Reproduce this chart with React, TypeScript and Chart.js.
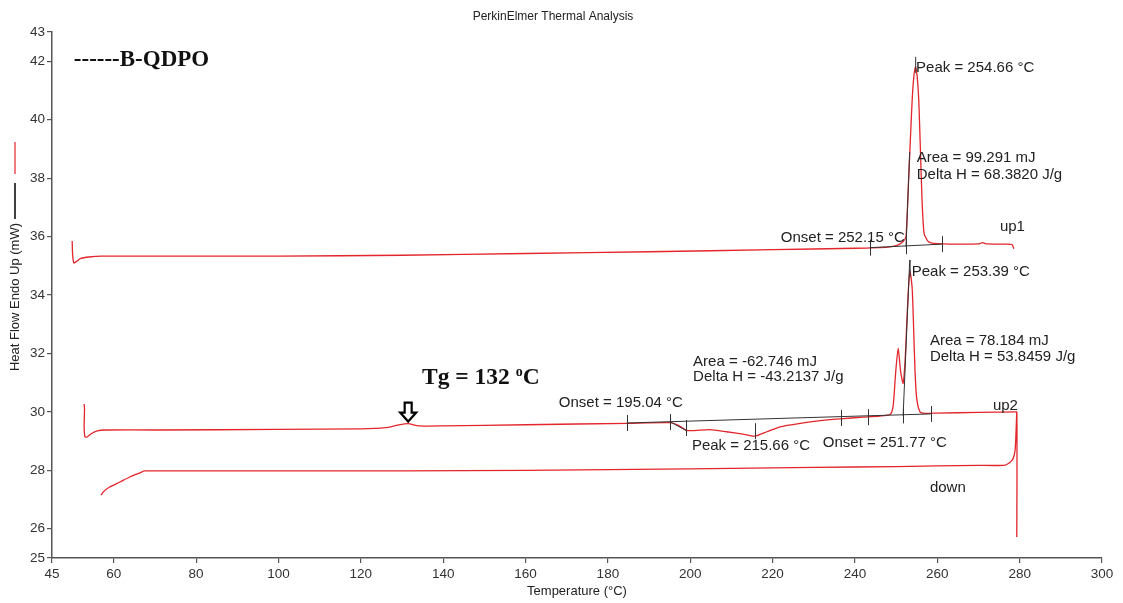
import React, { useEffect, useRef } from "react";
import { Chart, registerables } from "chart.js";

Chart.register(...registerables);

// ---------- text ----------
const chartTitle = "PerkinElmer Thermal Analysis";
const xAxisTitle = "Temperature (°C)";
const yAxisTitle = "Heat Flow Endo Up (mW)";

// ---------- axes ----------
const xMin = 45;
const xMax = 300;
const yMin = 25;
const yMax = 43;
const xTicks = [45, 60, 80, 100, 120, 140, 160, 180, 200, 220, 240, 260, 280, 300];
const yTicks = [25, 26, 28, 30, 32, 34, 36, 38, 40, 42, 43];

// ---------- curves (Temperature °C, Heat flow mW) ----------
const up1Temp = [49.9, 50.0, 50.3, 51, 52, 54, 57, 70, 100, 130, 160, 190, 220, 240, 248, 250.4, 251.7, 252.4, 252.9, 253.35, 253.9, 254.3, 254.7, 255.1, 255.5, 255.9, 256.3, 256.8, 257.8, 259, 265, 270, 271, 272, 277, 278.2, 278.6];
const up1Flow = [35.85, 35.4, 35.1, 35.15, 35.25, 35.3, 35.33, 35.33, 35.33, 35.36, 35.42, 35.48, 35.55, 35.6, 35.64, 35.71, 35.83, 36.0, 37.5, 38.96, 40.67, 41.47, 41.81, 41.5, 40.67, 38.96, 37.25, 36.1, 35.83, 35.77, 35.74, 35.75, 35.79, 35.75, 35.74, 35.72, 35.58];

const up2Temp = [52.8, 52.9, 52.8, 53.0, 53.5, 54.5, 56, 58, 70, 100, 120, 126, 129, 131.5, 134, 140, 160, 185, 195.1, 197, 199, 200.7, 204.8, 208.8, 212.8, 215.7, 218.6, 221.8, 226.7, 231.5, 236.4, 242, 246, 248.6, 249.3, 249.9, 250.5, 251.1, 251.7, 252.2, 252.6, 253.0, 253.35, 253.9, 254.2, 254.6, 255.0, 255.8, 257, 260, 270, 279.3];
const up2Flow = [30.27, 30.1, 29.5, 29.15, 29.14, 29.25, 29.35, 29.38, 29.38, 29.4, 29.42, 29.46, 29.55, 29.6, 29.52, 29.52, 29.56, 29.61, 29.63, 29.55, 29.37, 29.36, 29.39, 29.32, 29.24, 29.17, 29.32, 29.49, 29.61, 29.7, 29.76, 29.82, 29.86, 29.92, 30.23, 31.37, 32.18, 31.37, 30.98, 31.8, 33.09, 34.23, 34.85, 34.23, 33.09, 31.37, 30.46, 30.0, 29.95, 29.96, 29.98, 30.0];

const downTemp = [279.3, 279.35, 279.35, 279.3, 279.2, 278.9, 278.2, 276.5, 270, 250, 230, 200, 160, 130, 100, 80, 67.5, 66.5, 64, 61.5, 59, 57.5, 56.9];
const downFlow = [25.72, 27.5, 29.5, 30.0, 29.6, 28.7, 28.35, 28.18, 28.17, 28.13, 28.1, 28.05, 28.0, 27.98, 27.98, 27.98, 27.98, 27.92, 27.78, 27.6, 27.43, 27.27, 27.15];

// ---------- analysis annotations (data units) ----------
const analysisSegments = [
  [243.6, 35.62, 261.1, 35.74],
  [252.4, 35.65, 253.3, 38.9],
  [254.75, 42.15, 254.75, 41.6],
  [184.6, 29.62, 258.4, 29.93],
  [195.1, 29.66, 199.1, 29.36],
  [251.7, 29.86, 253.3, 35.2],
  [253.4, 35.2, 253.4, 34.6],
];
const markerTemps = [243.6, 252.4, 261.1, 184.6, 195.1, 236.6, 243.2, 251.7, 258.4, 198.9, 215.7];
const markerFlows = [35.62, 35.67, 35.74, 29.62, 29.65, 29.79, 29.82, 29.88, 29.93, 29.45, 29.34];

const labelTexts = [
  "Peak = 254.66 °C",
  "Area = 99.291 mJ",
  "Delta H = 68.3820 J/g",
  "Onset = 252.15 °C",
  "up1",
  "Peak = 253.39 °C",
  "Area = 78.184 mJ",
  "Delta H = 53.8459 J/g",
  "Area = -62.746 mJ",
  "Delta H = -43.2137 J/g",
  "Onset = 195.04 °C",
  "up2",
  "Peak = 215.66 °C",
  "Onset = 251.77 °C",
  "down",
];
const labelTemps = [254.85, 255.0, 255.0, 252.1, 275.2, 253.8, 258.2, 258.2, 200.7, 200.7, 198.2, 273.5, 200.4, 232.2, 258.2];
const labelFlows = [41.77, 38.69, 38.1, 35.95, 36.33, 34.79, 32.43, 31.88, 31.71, 31.19, 30.3, 30.2, 28.83, 28.93, 27.4];
const labelAligns = ["left", "left", "left", "right", "left", "left", "left", "left", "left", "left", "right", "left", "left", "left", "left"];

const sampleLabel = "------B-QDPO";
const sampleTemp = 50.3;
const sampleFlow = 42.05;

const tgMain = "Tg = 132 ";
const tgSup = "o";
const tgUnit = "C";
const tgTemp = 134.85;
const tgFlow = 31.16;
const tgArrowTemp = 131.5;
const tgArrowFlow = 29.6;

const RED = "#e3262b";
const INK = "#222222";
const AXIS = "#555555";
const SANS = "'Liberation Sans', Arial, Helvetica, sans-serif";
const SERIF = "'Liberation Serif', 'Times New Roman', serif";

const toPoints = (xs: number[], ys: number[]) => xs.map((x, i) => ({ x, y: ys[i] }));

const annotationPlugin = {
  id: "dscAnnotations",
  afterDatasetsDraw(chart: any) {
    const { ctx } = chart;
    const xs = chart.scales.x;
    const ys = chart.scales.y;
    const px = (v: number) => xs.getPixelForValue(v);
    const py = (v: number) => ys.getPixelForValue(v);
    ctx.save();
    ctx.strokeStyle = "#333333";
    ctx.lineWidth = 1;
    for (const s of analysisSegments) {
      ctx.beginPath();
      ctx.moveTo(px(s[0]), py(s[1]));
      ctx.lineTo(px(s[2]), py(s[3]));
      ctx.stroke();
    }
    markerTemps.forEach((t, i) => {
      const x = Math.round(px(t)) + 0.5;
      const y = py(markerFlows[i]);
      ctx.beginPath();
      ctx.moveTo(x, y - 8);
      ctx.lineTo(x, y + 8);
      ctx.stroke();
    });

    ctx.fillStyle = INK;
    ctx.font = `15px ${SANS}`;
    ctx.textBaseline = "middle";
    labelTexts.forEach((t, i) => {
      ctx.textAlign = labelAligns[i] as CanvasTextAlign;
      ctx.fillText(t, px(labelTemps[i]), py(labelFlows[i]));
    });

    // sample name
    ctx.fillStyle = "#111";
    ctx.textAlign = "left";
    ctx.font = `bold 23px ${SERIF}`;
    ctx.fillText(sampleLabel, px(sampleTemp), py(sampleFlow));

    // Tg label with superscript
    const tx = px(tgTemp);
    const ty = py(tgFlow);
    ctx.font = `bold 23.5px ${SERIF}`;
    ctx.fillText(tgMain, tx, ty);
    let w = ctx.measureText(tgMain).width;
    ctx.font = `bold 14px ${SERIF}`;
    ctx.fillText(tgSup, tx + w, ty - 6);
    w += ctx.measureText(tgSup).width;
    ctx.font = `bold 23.5px ${SERIF}`;
    ctx.fillText(tgUnit, tx + w, ty);

    // hollow down arrow
    const ax = px(tgArrowTemp);
    const tip = py(tgArrowFlow) - 2;
    const shaftHalf = 3.5;
    const headHalf = 8;
    const headH = 9;
    const totalH = 19;
    ctx.beginPath();
    ctx.moveTo(ax - shaftHalf, tip - totalH);
    ctx.lineTo(ax + shaftHalf, tip - totalH);
    ctx.lineTo(ax + shaftHalf, tip - headH);
    ctx.lineTo(ax + headHalf, tip - headH);
    ctx.lineTo(ax, tip);
    ctx.lineTo(ax - headHalf, tip - headH);
    ctx.lineTo(ax - shaftHalf, tip - headH);
    ctx.closePath();
    ctx.fillStyle = "#ffffff";
    ctx.fill();
    ctx.lineWidth = 2.2;
    ctx.strokeStyle = "#000";
    ctx.lineJoin = "miter";
    ctx.stroke();
    ctx.restore();
  },
  afterDraw(chart: any) {
    const { ctx, chartArea } = chart;
    ctx.save();
    ctx.fillStyle = "#222";
    ctx.textAlign = "center";
    ctx.textBaseline = "middle";
    ctx.font = `12px ${SANS}`;
    ctx.fillText(chartTitle, 553, 17);
    ctx.font = `13px ${SANS}`;
    ctx.fillText(xAxisTitle, 577, 591);

    // y title rotated with legend glyphs
    const cy = (chartArea.top + chartArea.bottom) / 2 + 2;
    ctx.translate(15, cy);
    ctx.rotate(-Math.PI / 2);
    ctx.font = `13px ${SANS}`;
    ctx.fillText(yAxisTitle, 0, 0);
    const half = ctx.measureText(yAxisTitle).width / 2;
    ctx.lineWidth = 1.5;
    ctx.strokeStyle = "#000";
    ctx.beginPath();
    ctx.moveTo(half + 4, 0);
    ctx.lineTo(half + 40, 0);
    ctx.stroke();
    ctx.strokeStyle = RED;
    ctx.lineWidth = 1.2;
    ctx.beginPath();
    ctx.moveTo(half + 49, 0);
    ctx.lineTo(half + 81, 0);
    ctx.stroke();
    ctx.restore();
  },
};

export default function App() {
  const canvasRef = useRef<HTMLCanvasElement | null>(null);

  useEffect(() => {
    const canvas = canvasRef.current;
    if (!canvas) return;
    const lineDs = (label: string, xs: number[], ys: number[]) => ({
      label,
      data: toPoints(xs, ys),
      showLine: true,
      borderColor: RED,
      backgroundColor: RED,
      borderWidth: 1.3,
      pointRadius: 0,
      tension: 0.2,
    });
    const chart = new Chart(canvas, {
      type: "scatter",
      data: {
        datasets: [
          lineDs("up1", up1Temp, up1Flow),
          lineDs("up2", up2Temp, up2Flow),
          lineDs("down", downTemp, downFlow),
        ],
      },
      options: {
        animation: false,
        responsive: false,
        devicePixelRatio: 1,
        layout: { padding: { top: 32, right: 21, left: 0, bottom: 0 } },
        plugins: {
          legend: { display: false },
          tooltip: { enabled: false },
          title: { display: false },
        },
        scales: {
          x: {
            type: "linear",
            min: xMin,
            max: xMax,
            afterBuildTicks: (s: any) => {
              s.ticks = xTicks.map((v) => ({ value: v }));
            },
            afterFit: (s: any) => {
              s.height = 45;
            },
            border: { display: true, color: AXIS, width: 1.5 },
            grid: { display: true, drawOnChartArea: false, drawTicks: true, tickLength: 5, color: AXIS, lineWidth: 1.2 },
            ticks: {
              autoSkip: false,
              maxRotation: 0,
              padding: 3,
              color: "#333",
              font: { family: SANS, size: 13.5 },
              callback: (v: any) => String(v),
            },
          },
          y: {
            type: "linear",
            min: yMin,
            max: yMax,
            afterBuildTicks: (s: any) => {
              s.ticks = yTicks.map((v) => ({ value: v }));
            },
            afterFit: (s: any) => {
              s.width = 52;
            },
            border: { display: true, color: AXIS, width: 1.5 },
            grid: { display: true, drawOnChartArea: false, drawTicks: true, tickLength: 5, color: AXIS, lineWidth: 1.2 },
            ticks: {
              autoSkip: false,
              padding: 2,
              color: "#333",
              font: { family: SANS, size: 13.5 },
              callback: (v: any) => String(v),
            },
          },
        },
      },
      plugins: [annotationPlugin],
    });
    return () => chart.destroy();
  }, []);

  return (
    <div style={{ position: "fixed", left: 0, top: 0, width: 1123, height: 603, background: "#fff" }}>
      <canvas ref={canvasRef} width={1123} height={603} style={{ display: "block", width: 1123, height: 603 }} />
    </div>
  );
}
